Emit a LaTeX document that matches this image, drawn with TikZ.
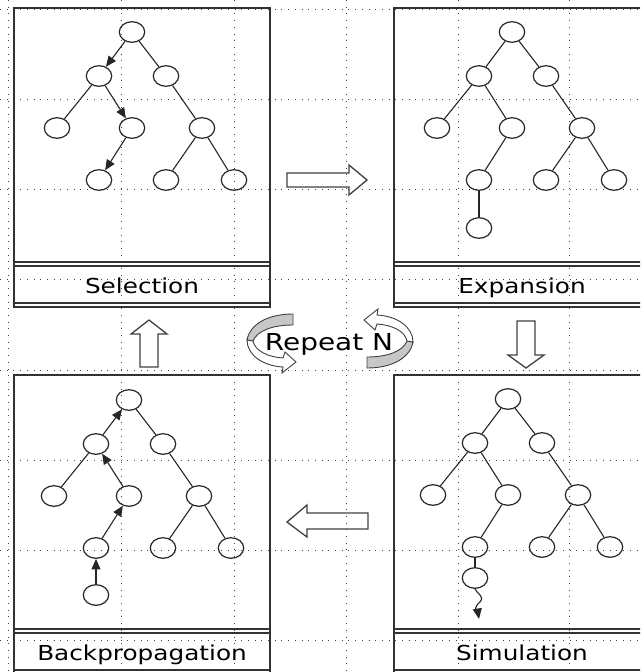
\documentclass[tikz,border=0pt]{standalone}
\usepackage{fontspec}
\usetikzlibrary{shapes.geometric,arrows.meta}
\newfontfamily\lblfont[FakeStretch=1.2]{DejaVu Sans}
\tikzset{
 gridline/.style={draw=black!75, line width=1pt, dash pattern=on 1pt off 5.7pt},
 panel/.style={draw=black!80, line width=1.4pt},
 tnode/.style={ellipse, draw=black!85, line width=1.2pt, minimum width=25.4pt, minimum height=20.6pt, inner sep=0pt},
 tedge/.style={draw=black!85, line width=1.1pt},
 tarrow/.style={tedge, -{Triangle[length=10.5pt,width=9pt]}},
 blockarrow/.style={draw=black!75, line width=1.3pt, line join=miter},
 lbl/.style={font=\lblfont\fontsize{20.6}{24}\selectfont, anchor=base, inner sep=0pt},
 rptband/.style={draw=black!75, line width=0.9pt},
}
\newcommand\mctree[1]{%
 \node[tnode] (#1r) at (132,32) {};
 \node[tnode] (#1a) at (99,76) {};
 \node[tnode] (#1b) at (166,76) {};
 \node[tnode] (#1c) at (57,128) {};
 \node[tnode] (#1d) at (132,128) {};
 \node[tnode] (#1e) at (202,128) {};
 \node[tnode] (#1f) at (99,180) {};
 \node[tnode] (#1g) at (166,180) {};
 \node[tnode] (#1h) at (234,180) {};
 \draw[tedge] (#1r) -- (#1b);
 \draw[tedge] (#1a) -- (#1c);
 \draw[tedge] (#1b) -- (#1e);
 \draw[tedge] (#1e) -- (#1g);
 \draw[tedge] (#1e) -- (#1h);
}
\newcommand\mcpanel[1]{%
 \draw[panel] (0,0) rectangle (256,299);
 \draw[panel] (0,254) -- (256,254);
 \draw[panel] (0,258) -- (256,258);
 \draw[panel] (0,295) -- (256,295);
}
\newcommand\rptarrow{%
 \filldraw[rptband, fill=black!22] (293,314) .. controls (268,314) and (250,324) .. (247,340)
   -- (253,341) .. controls (257,331) and (272,325) .. (293,325) -- cycle;
 \filldraw[rptband, fill=white] (247,340) .. controls (247,355) and (263,366) .. (283,367)
   -- (282,373) -- (296,362) -- (285,352) -- (283,358)
   .. controls (268,357) and (255,351) .. (253,341) -- cycle;
}
\begin{document}
\begin{tikzpicture}[x=1pt,y=-1pt]
\useasboundingbox (0,0) rectangle (640,672);
\clip (0,0) rectangle (640,672);
% dotted grid
\foreach \gx in {8,121,234,346,458,569} \draw[gridline] (\gx,0) -- (\gx,672);
\foreach \gy in {9,99,189,279,370,460,550,640} \draw[gridline] (0,\gy) -- (640,\gy);
% panels
\begin{scope}[shift={(14,8)}] \mcpanel{} \end{scope}
\begin{scope}[shift={(394,8)}] \mcpanel{} \end{scope}
\begin{scope}[shift={(14,375)}] \mcpanel{} \end{scope}
\begin{scope}[shift={(394,375)}] \mcpanel{} \end{scope}
% Selection
\begin{scope}
 \mctree{s}
 \draw[tarrow] (sr) -- (sa);
 \draw[tarrow] (sa) -- (sd);
 \draw[tarrow] (sd) -- (sf);
\end{scope}
% Expansion
\begin{scope}[shift={(380,0)}]
 \mctree{e}
 \draw[tedge] (er) -- (ea);
 \draw[tedge] (ea) -- (ed);
 \draw[tedge] (ed) -- (ef);
 \node[tnode] (ex) at (99,228) {};
 \draw[tedge] (ef) -- (ex);
\end{scope}
% Simulation
\begin{scope}[shift={(376,367)}]
 \mctree{m}
 \draw[tedge] (mr) -- (ma);
 \draw[tedge] (ma) -- (md);
 \draw[tedge] (md) -- (mf);
 \node[tnode] (mx) at (99,211) {};
 \draw[tedge] (mf) -- (mx);
 \coordinate (mend) at (103,252);
 \draw[tarrow] (mx.south) .. controls (101,227) and (109,229) .. (104,235)
   .. controls (98,240) and (99,243) .. (102,246) -- (mend);
\end{scope}
% Backpropagation
\begin{scope}[shift={(-3,368)}]
 \mctree{b}
 \node[tnode] (bx) at (99,227) {};
 \draw[tarrow] (bx) -- (bf);
 \draw[tarrow] (bf) -- (bd);
 \draw[tarrow] (bd) -- (ba);
 \draw[tarrow] (ba) -- (br);
\end{scope}
% labels
\node[lbl] (lsel) at (142,293) {Selection};
\node[lbl] (lexp) at (522,293) {Expansion};
\node[lbl] (lsim) at (522,660) {Simulation};
\node[lbl] (lbak) at (142,660) {Backpropagation};
% block arrows
\draw[blockarrow] (287,173) -- (349,173) -- (349,165) -- (367,180) -- (349,195) -- (349,187) -- (287,187) -- cycle;
\draw[blockarrow] (517,321) -- (535,321) -- (535,355) -- (544,355) -- (526,368) -- (508,355) -- (517,355) -- cycle;
\draw[blockarrow] (368,513) -- (307,513) -- (307,505) -- (287,522) -- (307,537) -- (307,529) -- (368,529) -- cycle;
\draw[blockarrow] (140,367) -- (140,334) -- (131,334) -- (149,320) -- (167,334) -- (158,334) -- (158,367) -- cycle;
% repeat arrows
\rptarrow
\begin{scope}[rotate around={180:(330,341)}] \rptarrow \end{scope}
\node[font=\lblfont\fontsize{23.3}{26}\selectfont, anchor=base, inner sep=0pt] (rep) at (329,350) {Repeat N};
\end{tikzpicture}
\end{document}
